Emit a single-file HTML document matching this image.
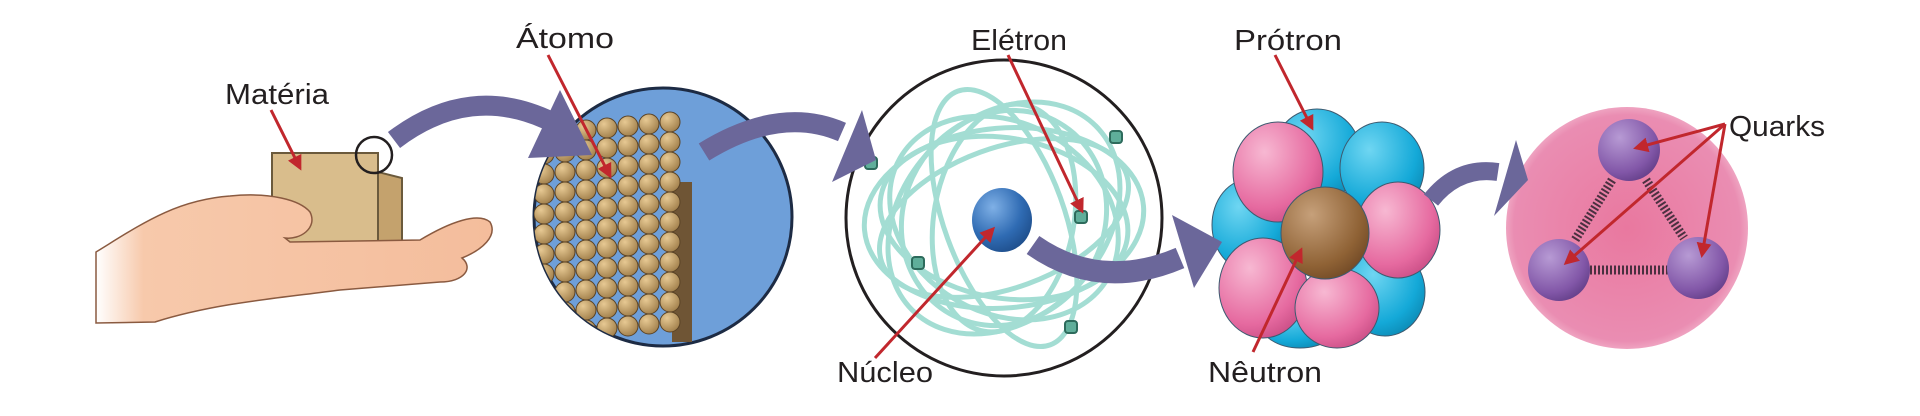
<!DOCTYPE html>
<html><head><meta charset="utf-8"><style>
html,body{margin:0;padding:0;background:#fff;}
svg{display:block;}
text{font-family:"Liberation Sans",sans-serif;fill:#231f20;font-size:29px;}
</style></head><body>
<svg id="s" width="1920" height="416" viewBox="0 0 1920 416" xmlns="http://www.w3.org/2000/svg">
<defs>
<marker id="ah" viewBox="0 0 10 10" refX="8" refY="5" markerWidth="5" markerHeight="5" orient="auto-start-reverse"><path d="M0,0 L10,5 L0,10 z" fill="#c1272d"/></marker>
<linearGradient id="hand" x1="0" x2="1"><stop offset="0" stop-color="#fff"/><stop offset="0.12" stop-color="#f7c9ab"/><stop offset="1" stop-color="#f4bd9c"/></linearGradient>
<radialGradient id="gBlue" cx="0.35" cy="0.3" r="0.8"><stop offset="0" stop-color="#7fb0e6"/><stop offset="0.6" stop-color="#2f6bb3"/><stop offset="1" stop-color="#1c4a86"/></radialGradient>
<radialGradient id="gPink" cx="0.35" cy="0.3" r="0.8"><stop offset="0" stop-color="#f7b8d2"/><stop offset="0.7" stop-color="#e66aa0"/><stop offset="1" stop-color="#c64a82"/></radialGradient>
<radialGradient id="gCyan" cx="0.35" cy="0.3" r="0.8"><stop offset="0" stop-color="#6fd6f2"/><stop offset="0.7" stop-color="#14a9d8"/><stop offset="1" stop-color="#0b86b0"/></radialGradient>
<radialGradient id="gBrown" cx="0.35" cy="0.3" r="0.8"><stop offset="0" stop-color="#c6a07a"/><stop offset="0.7" stop-color="#8f6235"/><stop offset="1" stop-color="#6d4624"/></radialGradient>
<radialGradient id="gQ" cx="0.5" cy="0.5" r="0.55"><stop offset="0" stop-color="#e9789f"/><stop offset="0.85" stop-color="#ea8db2"/><stop offset="1" stop-color="#f6c6d8"/></radialGradient>
<radialGradient id="gPurple" cx="0.35" cy="0.3" r="0.8"><stop offset="0" stop-color="#b79ad4"/><stop offset="0.7" stop-color="#8257a8"/><stop offset="1" stop-color="#5f3b84"/></radialGradient>
<radialGradient id="gBead" cx="0.35" cy="0.3" r="0.8"><stop offset="0" stop-color="#e7c993"/><stop offset="1" stop-color="#9c7a46"/></radialGradient>
<clipPath id="atomClip"><circle cx="663" cy="217" r="129"/></clipPath>
</defs>

<g>
<rect x="272" y="153" width="106" height="92" fill="#d9bd8c" stroke="#6b5a3c" stroke-width="2"/>
<path d="M378,172 L402,178 L402,245 L378,245 Z" fill="#c4a26d" stroke="#6b5a3c" stroke-width="2"/>
<path d="M96,252 C140,225 175,200 230,196 C270,192 300,200 310,212 C318,228 300,240 285,238 L290,242 L420,240 C450,222 478,212 490,222 C498,236 482,250 462,258 C474,268 464,282 440,282 L340,290 C280,298 215,303 155,322 L96,323 Z" fill="url(#hand)" stroke="#8a5a40" stroke-width="1.5"/>
<circle cx="374" cy="155" r="18" fill="none" stroke="#231f20" stroke-width="2.5"/>
</g>

<g>
<circle cx="663" cy="217" r="129" fill="#6e9fd9" stroke="#1d2b44" stroke-width="3"/>
<g id="beads" clip-path="url(#atomClip)"><rect x="672" y="182" width="20" height="160" fill="#6f5535"/></g>
</g>

<g>
<circle cx="1004" cy="218" r="158" fill="#fff" stroke="#231f20" stroke-width="3"/>
<g id="orbits" fill="none" stroke="#93d8cc" stroke-width="5" opacity="0.85"></g>
<ellipse cx="1002" cy="220" rx="30" ry="32" fill="url(#gBlue)"/>
<g id="electrons"></g>
</g>

<g stroke="#3d5a70" stroke-width="1">
<ellipse cx="1317" cy="155" rx="44" ry="46" fill="url(#gCyan)"/>
<ellipse cx="1382" cy="168" rx="42" ry="46" fill="url(#gCyan)"/>
<ellipse cx="1250" cy="225" rx="38" ry="46" fill="url(#gCyan)"/>
<ellipse cx="1385" cy="292" rx="40" ry="44" fill="url(#gCyan)"/>
<ellipse cx="1300" cy="322" rx="40" ry="26" fill="url(#gCyan)"/>
<ellipse cx="1278" cy="172" rx="45" ry="50" fill="url(#gPink)"/>
<ellipse cx="1263" cy="288" rx="44" ry="50" fill="url(#gPink)"/>
<ellipse cx="1398" cy="230" rx="42" ry="48" fill="url(#gPink)"/>
<ellipse cx="1337" cy="308" rx="42" ry="40" fill="url(#gPink)"/>
<ellipse cx="1325" cy="233" rx="44" ry="46" fill="url(#gBrown)"/>
</g>

<g>
<circle cx="1627" cy="228" r="121" fill="url(#gQ)"/>
<g stroke="#4a3040" stroke-width="9" stroke-dasharray="2 2">
<line x1="1612" y1="180" x2="1575" y2="240"/>
<line x1="1646" y1="180" x2="1684" y2="238"/>
<line x1="1590" y1="270" x2="1668" y2="270"/>
</g>
<circle cx="1629" cy="150" r="31" fill="url(#gPurple)"/>
<circle cx="1559" cy="270" r="31" fill="url(#gPurple)"/>
<circle cx="1698" cy="268" r="31" fill="url(#gPurple)"/>
</g>

<g fill="#6b679a">
<path d="M394,140 Q470,82 552,122" fill="none" stroke="#6b679a" stroke-width="20"/>
<polygon points="592,155 560,90 528,158"/>
<path d="M704,152 Q780,105 842,132" fill="none" stroke="#6b679a" stroke-width="20"/>
<polygon points="876,160 862,110 832,182"/>
<path d="M1033,245 Q1100,292 1180,258" fill="none" stroke="#6b679a" stroke-width="22"/>
<polygon points="1222,242 1172,215 1194,288"/>
<path d="M1431,200 Q1458,166 1498,172" fill="none" stroke="#6b679a" stroke-width="18"/>
<polygon points="1528,180 1516,140 1494,216"/>
</g>

<g stroke="#c1272d" stroke-width="3" fill="none" marker-end="url(#ah)">
<line x1="271" y1="110" x2="300" y2="168"/>
<line x1="548" y1="55" x2="610" y2="176"/>
<line x1="1008" y1="55" x2="1082" y2="211"/>
<line x1="875" y1="358" x2="993" y2="229"/>
<line x1="1275" y1="55" x2="1312" y2="128"/>
<line x1="1253" y1="352" x2="1301" y2="250"/>
<line x1="1725" y1="124" x2="1636" y2="148"/>
<line x1="1725" y1="124" x2="1566" y2="263"/>
<line x1="1725" y1="124" x2="1702" y2="255"/>
</g>
<text x="225" y="104" textLength="104" lengthAdjust="spacingAndGlyphs">Matéria</text>
<text x="516" y="48" textLength="98" lengthAdjust="spacingAndGlyphs">Átomo</text>
<text x="971" y="50" textLength="96" lengthAdjust="spacingAndGlyphs">Elétron</text>
<text x="837" y="382" textLength="96" lengthAdjust="spacingAndGlyphs">Núcleo</text>
<text x="1234" y="50" textLength="108" lengthAdjust="spacingAndGlyphs">Prótron</text>
<text x="1208" y="382" textLength="114" lengthAdjust="spacingAndGlyphs">Nêutron</text>
<text x="1729" y="136" textLength="96" lengthAdjust="spacingAndGlyphs">Quarks</text>
</svg>
<script>
var NS="http://www.w3.org/2000/svg";
var beads=document.getElementById('beads');
for(var c=0;c<7;c++){for(var r=0;r<11;r++){
 var e=document.createElementNS(NS,'ellipse');
 e.setAttribute('cx',544+c*21);e.setAttribute('cy',134+r*20-(c*2));
 e.setAttribute('rx',10);e.setAttribute('ry',10);
 e.setAttribute('fill','url(#gBead)');e.setAttribute('stroke','#5a4326');
 
 
 beads.appendChild(e);}}
var orb=document.getElementById('orbits');
var os=[[130,70,-20],[120,95,30],[135,60,70],[110,100,-60],[125,80,10],[100,130,45],[140,90,-5],[115,70,100]];
os.forEach(function(o){var e=document.createElementNS(NS,'ellipse');
 e.setAttribute('cx',1004);e.setAttribute('cy',218);e.setAttribute('rx',o[0]);e.setAttribute('ry',o[1]);
 e.setAttribute('transform','rotate('+o[2]+' 1004 218)');
 
 
 orb.appendChild(e);});
var el=document.getElementById('electrons');
[[871,163],[1116,137],[1081,217],[918,263],[1071,327]].forEach(function(p){
 var e=document.createElementNS(NS,'rect');
 e.setAttribute('x',p[0]-6);e.setAttribute('y',p[1]-6);e.setAttribute('width',12);e.setAttribute('height',12);e.setAttribute('rx',3);
 e.setAttribute('fill','#5fae9a');e.setAttribute('stroke','#2d6b5c');e.setAttribute('stroke-width',2);
 
 
 el.appendChild(e);});
</script>
</body></html>
